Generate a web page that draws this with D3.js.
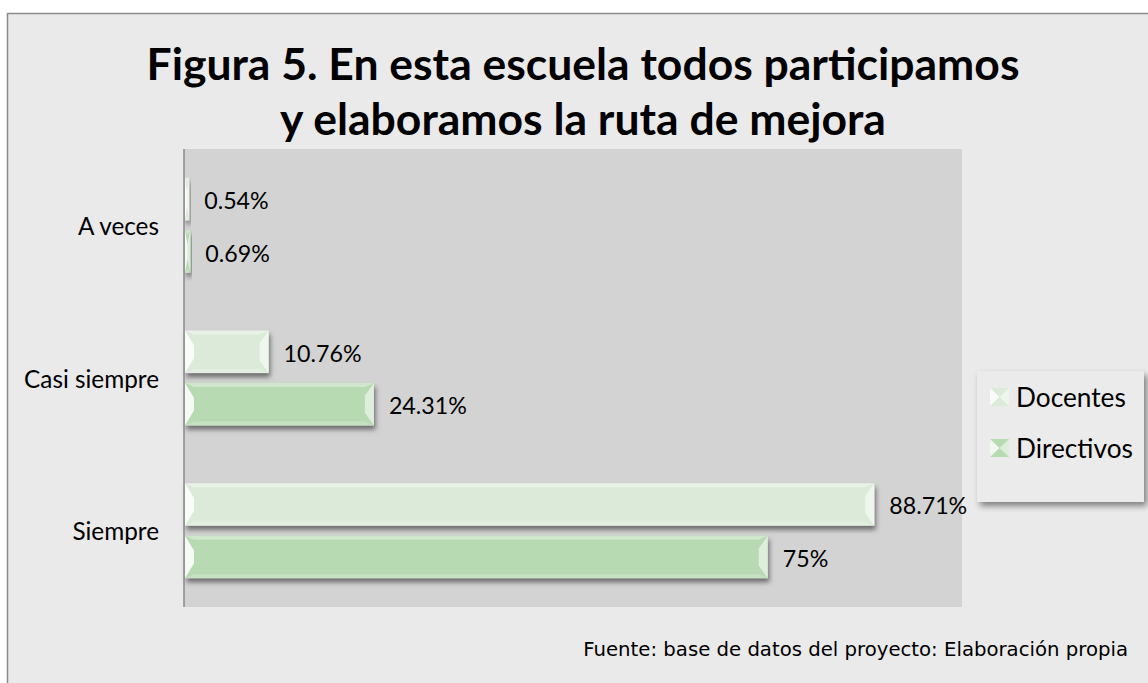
<!DOCTYPE html>
<html><head><meta charset="utf-8">
<script src="https://cdn.jsdelivr.net/npm/d3@7"></script>
<style>
html,body{margin:0;padding:0;background:#fff;}
svg{display:block;}
</style></head>
<body>
<svg id="c" width="1148" height="683"></svg>
<script>
// ---- data ----
const categories = ["A veces", "Casi siempre", "Siempre"];
const seriesNames = ["Docentes", "Directivos"];
const docentes = [0.54, 10.76, 88.71];
const directivos = [0.69, 24.31, 75];
const titleLines = ["Figura 5. En esta escuela todos participamos", "y elaboramos la ruta de mejora"];
const sourceText = "Fuente: base de datos del proyecto: Elaboración propia";

const seriesValues = [docentes, directivos];
const colors = {"Docentes": "#dcebd9", "Directivos": "#b8dab2"};

const svg = d3.select("#c");
const W = 1148, H = 683;

const defs = svg.append("defs");
const sh = defs.append("filter").attr("id","shadow").attr("x","-20%").attr("y","-30%").attr("width","140%").attr("height","180%");
sh.append("feDropShadow").attr("dx",1.5).attr("dy",4).attr("stdDeviation",2.6).attr("flood-color","#000").attr("flood-opacity",0.5);
const sh2 = defs.append("filter").attr("id","shadow2").attr("x","-20%").attr("y","-30%").attr("width","140%").attr("height","160%");
sh2.append("feDropShadow").attr("dx",3).attr("dy",4).attr("stdDeviation",3).attr("flood-color","#000").attr("flood-opacity",0.45);

// outer frame
svg.append("rect").attr("x",7.5).attr("y",13.5).attr("width",W+20).attr("height",H+20)
  .attr("fill","#eaeaea").attr("stroke","#8c8c8c").attr("stroke-width",1.5);

function fit(sel, target){
  const w = sel.node().getComputedTextLength();
  const fs = parseFloat(sel.attr("font-size"));
  sel.attr("font-size", fs*target/w);
  return fs*target/w;
}

// title
const t1 = svg.append("text").attr("x",583).attr("y",80).attr("text-anchor","middle")
  .attr("font-family","Lato, 'Open Sans', sans-serif").attr("font-weight",700).attr("font-size",40)
  .attr("fill","#000").text(titleLines[0]);
const tfs = fit(t1, 873);
svg.append("text").attr("x",583).attr("y",135).attr("text-anchor","middle")
  .attr("font-family","Lato, 'Open Sans', sans-serif").attr("font-weight",700).attr("font-size",tfs)
  .attr("fill","#000").text(titleLines[1]);

// plot area
const plotL = 184, plotR = 962, plotT = 149, plotB = 607;
svg.append("rect").attr("x",plotL).attr("y",plotT).attr("width",plotR-plotL).attr("height",plotB-plotT).attr("fill","#d3d3d3");

const x = d3.scaleLinear().domain([0,100]).range([plotL+1, plotR]);
const y = d3.scaleBand().domain(categories).range([plotT, plotB]).paddingInner(0.378).paddingOuter(0.189);
const yi = d3.scaleBand().domain(seriesNames).range([0, y.bandwidth()]).paddingInner(0.19);

// bars
const bars = [];
categories.forEach((c,i)=>{
  seriesNames.forEach((s,j)=>{
    bars.push({cat:c, series:s, value: seriesValues[j][i]});
  });
});

const g = svg.append("g");
const bg = g.selectAll("g.bar").data(bars).enter().append("g").attr("class","bar");
bg.each(function(d){
  const gg = d3.select(this);
  const x0 = x(0), x1 = x(d.value);
  const y0 = y(d.cat) + yi(d.series), h = yi.bandwidth(), y1 = y0 + h;
  const w = x1 - x0;
  gg.append("rect").attr("x",x0).attr("y",y0).attr("width",w).attr("height",h)
    .attr("fill",colors[d.series]).attr("filter","url(#shadow)");
  const b = Math.min(9, w/2);
  const bv = Math.min(4, h/2);
  // top facet
  gg.append("path").attr("d",`M${x0},${y0}L${x1},${y0}L${x1-b},${y0+bv}L${x0+b},${y0+bv}Z`).attr("fill","#fff").attr("opacity",0.35);
  // bottom facet
  gg.append("path").attr("d",`M${x0},${y1}L${x1},${y1}L${x1-b},${y1-bv}L${x0+b},${y1-bv}Z`).attr("fill","#fff").attr("opacity",0.2);
  // left facet
  gg.append("path").attr("d",`M${x0},${y0}L${x0+b},${y0+h*0.35}L${x0+b},${y1-h*0.35}L${x0},${y1}Z`).attr("fill","#fff").attr("opacity",0.85);
  // right facet
  gg.append("path").attr("d",`M${x1},${y0}L${x1-b},${y0+h*0.3}L${x1-b},${y1-h*0.3}L${x1},${y1}Z`).attr("fill","#fff").attr("opacity",0.55);
});

// axis line
svg.append("line").attr("x1",plotL).attr("x2",plotL).attr("y1",plotT).attr("y2",plotB)
  .attr("stroke","#8a8a8a").attr("stroke-width",1.5);

// data labels
const lab0 = svg.append("text").attr("font-family","Lato, 'Open Sans', sans-serif").attr("font-size",20).text("88.71%");
const lfs = fit(lab0, 78);
lab0.remove();
svg.selectAll("text.val").data(bars).enter().append("text").attr("class","val")
  .attr("x", d=>x(d.value)+15)
  .attr("y", d=>y(d.cat)+yi(d.series)+yi.bandwidth()/2+1)
  .attr("dominant-baseline","central")
  .attr("font-family","Lato, 'Open Sans', sans-serif").attr("font-size",lfs).attr("fill","#000")
  .text(d=>d.value+"%");

// category labels
const c0 = svg.append("text").attr("font-family","Lato, 'Open Sans', sans-serif").attr("font-size",20).text("Casi siempre");
const cfs = fit(c0, 135);
c0.remove();
svg.selectAll("text.cat").data(categories).enter().append("text").attr("class","cat")
  .attr("x",159).attr("y",d=>y(d)+y.bandwidth()/2)
  .attr("text-anchor","end").attr("dominant-baseline","central")
  .attr("font-family","Lato, 'Open Sans', sans-serif").attr("font-size",cfs).attr("fill","#000")
  .text(d=>d);

// legend
const lg = svg.append("g");
lg.append("rect").attr("x",977).attr("y",371).attr("width",167).attr("height",131)
  .attr("fill","#ebebeb").attr("filter","url(#shadow2)");
const l0 = svg.append("text").attr("font-family","Lato, 'Open Sans', sans-serif").attr("font-size",20).text("Directivos");
const legfs = fit(l0, 117);
l0.remove();
const legY = d3.scalePoint().domain(seriesNames).range([397, 448]);
seriesNames.forEach(s=>{
  const cy = legY(s);
  const sx = 990, sw = 19, sy = cy-9, shh = 18;
  lg.append("rect").attr("x",sx).attr("y",sy).attr("width",sw).attr("height",shh).attr("fill",colors[s]);
  lg.append("path").attr("d",`M${sx},${sy}L${sx+sw/2},${cy}L${sx},${sy+shh}Z`).attr("fill","#fff").attr("opacity",0.8);
  lg.append("path").attr("d",`M${sx+sw},${sy}L${sx+sw/2},${cy}L${sx+sw},${sy+shh}Z`).attr("fill","#fff").attr("opacity",0.5);
  lg.append("text").attr("x",1016).attr("y",cy).attr("dominant-baseline","central")
    .attr("font-family","Lato, 'Open Sans', sans-serif").attr("font-size",legfs).attr("fill","#000").text(s);
});

// source
const src = svg.append("text").attr("x",1128).attr("y",656).attr("text-anchor","end")
  .attr("font-family","'DejaVu Sans', Verdana, sans-serif").attr("font-size",15).attr("fill","#000")
  .text(sourceText);
fit(src, 545);
</script>
</body></html>
